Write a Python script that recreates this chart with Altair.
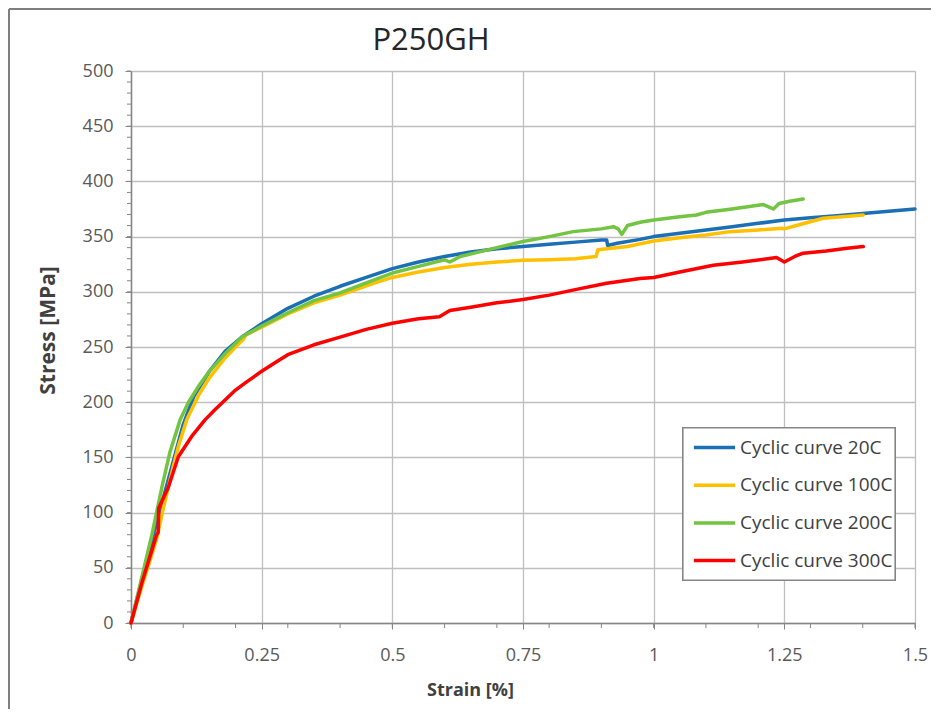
import altair as alt
import pandas as pd

# ---- data ----
strain_20 = [0, 0.02, 0.04, 0.06, 0.08, 0.10, 0.12, 0.15, 0.18, 0.212, 0.25, 0.30, 0.35, 0.40, 0.45,
             0.50, 0.55, 0.60, 0.65, 0.70, 0.75, 0.80, 0.85, 0.90, 0.91, 0.912, 0.93, 0.974, 1.0,
             1.05, 1.10, 1.15, 1.20, 1.25, 1.30, 1.35, 1.40, 1.45, 1.50]
stress_20 = [0, 38, 75, 110, 145, 180, 205, 228, 246, 259, 271, 285, 296, 305, 313,
             321, 327, 332, 336, 339, 341, 343, 345, 347, 347, 342, 344, 347.5, 350,
             353, 356, 359, 362, 365, 367, 369, 371, 373, 375]

strain_100 = [0, 0.02, 0.04, 0.05, 0.06, 0.08, 0.0906, 0.1066, 0.13, 0.15, 0.18, 0.20, 0.215, 0.22,
              0.25, 0.30, 0.35, 0.40, 0.464, 0.50, 0.55, 0.60, 0.65, 0.70, 0.75, 0.80, 0.85, 0.89,
              0.893, 0.95, 1.0, 1.05, 1.10, 1.146, 1.20, 1.245, 1.25, 1.28, 1.3245, 1.36, 1.401]
stress_100 = [0, 32, 62, 78, 100, 140, 160, 184, 207, 222, 240, 250, 257, 261,
              268, 280, 290, 297, 307.7, 313, 318, 322, 325, 327, 328.5, 329, 330, 332,
              338, 341, 346, 349, 351.5, 354.5, 356, 357.5, 357, 361, 366.6, 368, 369.6]

strain_200 = [0, 0.02, 0.04, 0.06, 0.0746, 0.094, 0.11, 0.13, 0.15, 0.18, 0.212, 0.25, 0.30, 0.35,
              0.40, 0.45, 0.50, 0.55, 0.60, 0.61, 0.63, 0.70, 0.75, 0.80, 0.846, 0.90, 0.923, 0.932,
              0.939, 0.95, 0.974, 1.0, 1.05, 1.082, 1.10, 1.15, 1.21, 1.22, 1.229, 1.24, 1.26, 1.286]
stress_200 = [0, 40, 80, 125, 155, 184, 200, 215, 228, 244, 259, 269, 281, 292,
              299, 308, 317, 323, 329, 327, 332, 340, 345.6, 350, 354.5, 357, 359, 357,
              352, 360, 363, 365, 368, 369.6, 372, 375, 379, 377, 375, 380, 382, 384]

strain_300 = [0, 0.02, 0.049, 0.052, 0.053, 0.0714, 0.0905, 0.116, 0.1416, 0.16, 0.18, 0.20, 0.22,
              0.25, 0.28, 0.30, 0.35, 0.40, 0.45, 0.50, 0.55, 0.59, 0.61, 0.65, 0.70, 0.75, 0.80,
              0.85, 0.91, 0.974, 1.0, 1.05, 1.114, 1.17, 1.235, 1.25, 1.27, 1.286, 1.33, 1.37, 1.401]
stress_300 = [0, 35, 80, 82, 104, 123, 150.6, 169, 184, 193, 202, 211, 218,
              228, 237, 243, 252, 259, 266, 271.5, 275.5, 277.5, 283, 286, 290, 293, 297,
              302, 307.7, 312, 313, 318, 324, 327, 331, 327, 332, 335, 337, 339.5, 341]

series_names = ["Cyclic curve 20C", "Cyclic curve 100C", "Cyclic curve 200C", "Cyclic curve 300C"]
series_colors = ["#1A6FB5", "#FFC000", "#72C442", "#FF0000"]

x_major = [0, 0.25, 0.5, 0.75, 1.0, 1.25, 1.5]
x_minor = [round(0.1 * i, 1) for i in range(16)]
y_major = list(range(0, 501, 50))
y_minor = list(range(0, 501, 10))

rows = []
for name, xs, ys in zip(series_names,
                        [strain_20, strain_100, strain_200, strain_300],
                        [stress_20, stress_100, stress_200, stress_300]):
    for i, (a, b) in enumerate(zip(xs, ys)):
        rows.append({"series": name, "strain": a, "stress": b, "idx": i})
df = pd.DataFrame(rows)

W, H = 784, 552
FONT = "Open Sans"

xscale = alt.Scale(domain=[0, 1.5], nice=False, zero=False)
yscale = alt.Scale(domain=[0, 500], nice=False)

lines = alt.Chart(df).mark_line(strokeWidth=3.5, strokeCap="round", strokeJoin="round").encode(
    x=alt.X("strain:Q", scale=xscale,
            axis=alt.Axis(values=x_major, labelExpr="toString(datum.value)", title="Strain [%]",
                          grid=True, gridColor="#BFBFBF", gridWidth=1.3,
                          domainColor="#868686", domainWidth=1.5,
                          tickColor="#868686", tickSize=6, tickWidth=1,
                          labelFont=FONT, labelFontSize=18, labelColor="#595959", labelPadding=17,
                          labelFlush=False,
                          titleFont=FONT, titleFontSize=18, titleFontWeight="bold", titleColor="#404040",
                          titleX=339, titleY=67, titleBaseline="middle", titleAnchor="middle")),
    y=alt.Y("stress:Q", scale=yscale,
            axis=alt.Axis(values=y_major, title="Stress [MPa]",
                          grid=True, gridColor="#BFBFBF", gridWidth=1.3,
                          domainColor="#868686", domainWidth=1.5,
                          tickColor="#868686", tickSize=6, tickWidth=1,
                          labelFont=FONT, labelFontSize=18, labelColor="#595959", labelPadding=12,
                          labelFlush=False,
                          titleFont=FONT, titleFontSize=21, titleFontWeight="bold", titleColor="#404040",
                          titleX=-83, titleY=259, titleBaseline="middle", titleAngle=-90)),
    color=alt.Color("series:N",
                    scale=alt.Scale(domain=series_names, range=series_colors),
                    sort=series_names,
                    legend=alt.Legend(title=None, orient="none", legendX=552, legendY=345,
                                      padding=9,
                                      symbolType="stroke", symbolSize=1700, symbolStrokeWidth=3.5,
                                      labelFont=FONT, labelFontSize=19, labelColor="#404040",
                                      labelOffset=3, rowPadding=4.7, labelLimit=300)),
    order="idx:Q",
)

xminor_df = pd.DataFrame({"v": x_minor})
yminor_df = pd.DataFrame({"v": y_minor})

xminor = alt.Chart(xminor_df).mark_rule(color="#868686", strokeWidth=1).encode(
    x=alt.X("v:Q", scale=xscale), y=alt.value(H), y2=alt.value(H + 5))
yminor = alt.Chart(yminor_df).mark_rule(color="#868686", strokeWidth=1).encode(
    y=alt.Y("v:Q", scale=yscale), x=alt.value(-4), x2=alt.value(0))

legend_box = alt.Chart(xminor_df).mark_rect(fill="white", stroke="#868686", strokeWidth=1.2).encode(
    x=alt.value(552), x2=alt.value(764), y=alt.value(357), y2=alt.value(509))

frame_left = alt.Chart(xminor_df).mark_rule(color="#7F7F7F", strokeWidth=2).encode(
    x=alt.value(-122), y=alt.value(-62), y2=alt.value(H + 200))
frame_top = alt.Chart(xminor_df).mark_rule(color="#7F7F7F", strokeWidth=2).encode(
    y=alt.value(-62), x=alt.value(-122), x2=alt.value(W + 200))

chart = alt.layer(xminor, yminor, lines, legend_box, frame_left, frame_top).properties(
    width=W, height=H,
    title=alt.Title("P250GH", font=FONT, fontSize=31, fontWeight="normal", color="#262626",
                    anchor="middle", dx=-92, offset=0, dy=49),
    autosize=alt.AutoSizeParams(type="none"),
    padding={"left": 123, "top": 63, "right": 16, "bottom": 86},
).configure_view(stroke=None).configure(background="white")

chart.save("out.html", embed_options={"renderer": "svg", "actions": False})
